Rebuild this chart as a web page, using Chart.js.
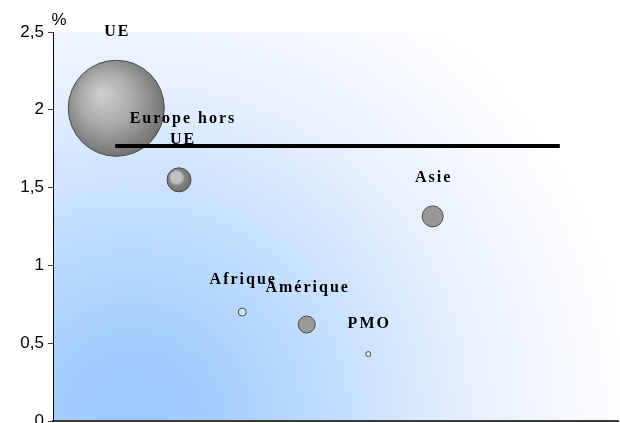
<!DOCTYPE html>
<html>
<head>
<meta charset="utf-8">
<script src="https://cdn.jsdelivr.net/npm/chart.js@4"></script>
<style>
  body { margin: 0; background: #fff; }
  canvas { display: block; }
</style>
</head>
<body>
<canvas id="chart" width="620" height="423"></canvas>
<script>
// regions and their values (% on y, position on x, bubble size)
var regions = ["UE", ["Europe hors", "UE"], "Afrique", "Amérique", "PMO", "Asie"]
var xValues = [1.12, 2.23, 3.35, 4.49, 5.58, 6.72]
var yValues = [2.01, 1.55, 0.70, 0.62, 0.43, 1.315]
var sizes = [48, 12, 4, 8.5, 2.5, 10.5]

// average line
var avgValue = 1.767
var avgFrom = 1.10
var avgTo = 8.97

var yTicks = [0, 0.5, 1, 1.5, 2, 2.5]

// bubble look
var fills = ["ball", "ball2", "rgba(255,255,255,0.35)", "#999999", "rgba(255,255,255,0.35)", "#999999"]

// bubbles without the extra room around the plot that chart.js keeps for big radii
class OpenBubble extends Chart.BubbleController {
  getMaxOverflow() { return 0 }
}
OpenBubble.id = "openBubble"
OpenBubble.defaults = Chart.BubbleController.defaults
OpenBubble.overrides = Chart.BubbleController.overrides
Chart.register(OpenBubble)

function ballFill(ctx) {
  var chart = ctx.chart
  var kind = fills[ctx.dataIndex]
  if (kind !== "ball" && kind !== "ball2") return kind
  if (ctx.type !== "data" || !chart.scales.x) return "#999"
  var x = chart.scales.x.getPixelForValue(xValues[ctx.dataIndex])
  var y = chart.scales.y.getPixelForValue(yValues[ctx.dataIndex])
  if (!isFinite(x) || !isFinite(y)) return "#999"
  var r = sizes[ctx.dataIndex]
  var g = chart.ctx.createRadialGradient(x - r * 0.3, y - r * 0.3, 0, x - r * 0.1, y - r * 0.1, r * 1.1)
  if (kind === "ball") {
    g.addColorStop(0, "#cfcfcf")
    g.addColorStop(0.5, "#aaaaaa")
    g.addColorStop(1, "#747474")
  } else {
    g.addColorStop(0, "#c4c4c4")
    g.addColorStop(0.45, "#bdbdbd")
    g.addColorStop(0.6, "#858585")
    g.addColorStop(1, "#6f6f6f")
  }
  return g
}

var bubbleData = xValues.map(function (x, i) {
  return { x: x, y: yValues[i], r: sizes[i] }
})

var backdrop = {
  id: "backdrop",
  beforeDraw: function (chart) {
    var a = chart.chartArea
    var c = chart.ctx
    var g = c.createRadialGradient(a.left + 80, a.bottom, 0, a.left + 80, a.bottom, 500)
    g.addColorStop(0, "#9ccaff")
    g.addColorStop(0.15, "#a2cdff")
    g.addColorStop(0.4, "#c2ddff")
    g.addColorStop(0.65, "#e3eeff")
    g.addColorStop(0.85, "#f5f8ff")
    g.addColorStop(1, "#ffffff")
    c.save()
    c.fillStyle = g
    c.fillRect(a.left, a.top, a.right - a.left, a.bottom - a.top)
    c.restore()
  },
}

var bubbleLabels = {
  id: "bubbleLabels",
  afterDatasetsDraw: function (chart) {
    var c = chart.ctx
    var meta = chart.getDatasetMeta(1)
    c.save()
    c.font = "bold 16px 'Liberation Serif'"
    c.letterSpacing = "2px"
    c.fillStyle = "#000"
    c.textAlign = "center"
    c.textBaseline = "middle"
    meta.data.forEach(function (el, i) {
      var lines = [].concat(regions[i])
      var base = el.y - sizes[i] - 28
      for (var k = lines.length - 1; k >= 0; k--) {
        c.fillText(lines[k], el.x + 1 + (lines.length > 1 ? 3 : 0), base - (lines.length - 1 - k) * 21)
      }
    })
    c.letterSpacing = "0px"
    c.font = "17px 'Liberation Sans'"
    c.fillText("%", chart.chartArea.left + 6, 20)
    c.restore()
  },
}

new Chart(document.getElementById("chart"), {
  type: "openBubble",
  data: {
    datasets: [
      {
        type: "line",
        data: [{ x: avgFrom, y: avgValue }, { x: avgTo, y: avgValue }],
        borderColor: "#000",
        borderWidth: 4,
        pointRadius: 0,
        order: 0,
      },
      {
        data: bubbleData,
        backgroundColor: ballFill,
        borderColor: "#4a4a4a",
        borderWidth: 1,
        hoverRadius: 0,
        clip: false,
        order: 1,
      },
    ],
  },
  options: {
    responsive: false,
    animation: false,
    layout: { padding: { top: 32, right: 2, bottom: 0, left: 0 } },
    plugins: { legend: { display: false }, tooltip: { enabled: false } },
    scales: {
      x: {
        type: "linear",
        min: 0,
        max: 10,
        ticks: { display: false },
        grid: { display: false },
        border: { color: "#3c3c3c", width: 2 },
        afterFit: function (s) {
          s.height = 2
          s.paddingLeft = 0
          s.paddingRight = 0
        },
      },
      y: {
        type: "linear",
        min: 0,
        max: 2.5,
        afterBuildTicks: function (s) { s.ticks = yTicks.map(function (v) { return { value: v } }) },
        ticks: {
          color: "#000",
          font: { family: "'Liberation Sans'", size: 17 },
          padding: 4,
          callback: function (v) { return String(v).replace(".", ",") },
        },
        grid: { drawOnChartArea: false, tickLength: 5, color: "#444" },
        border: { color: "#000", width: 1 },
        afterFit: function (s) {
          s.width = 53
          s.paddingTop = 0
          s.paddingBottom = 0
        },
      },
    },
  },
  plugins: [backdrop, bubbleLabels],
})
</script>
</body>
</html>
